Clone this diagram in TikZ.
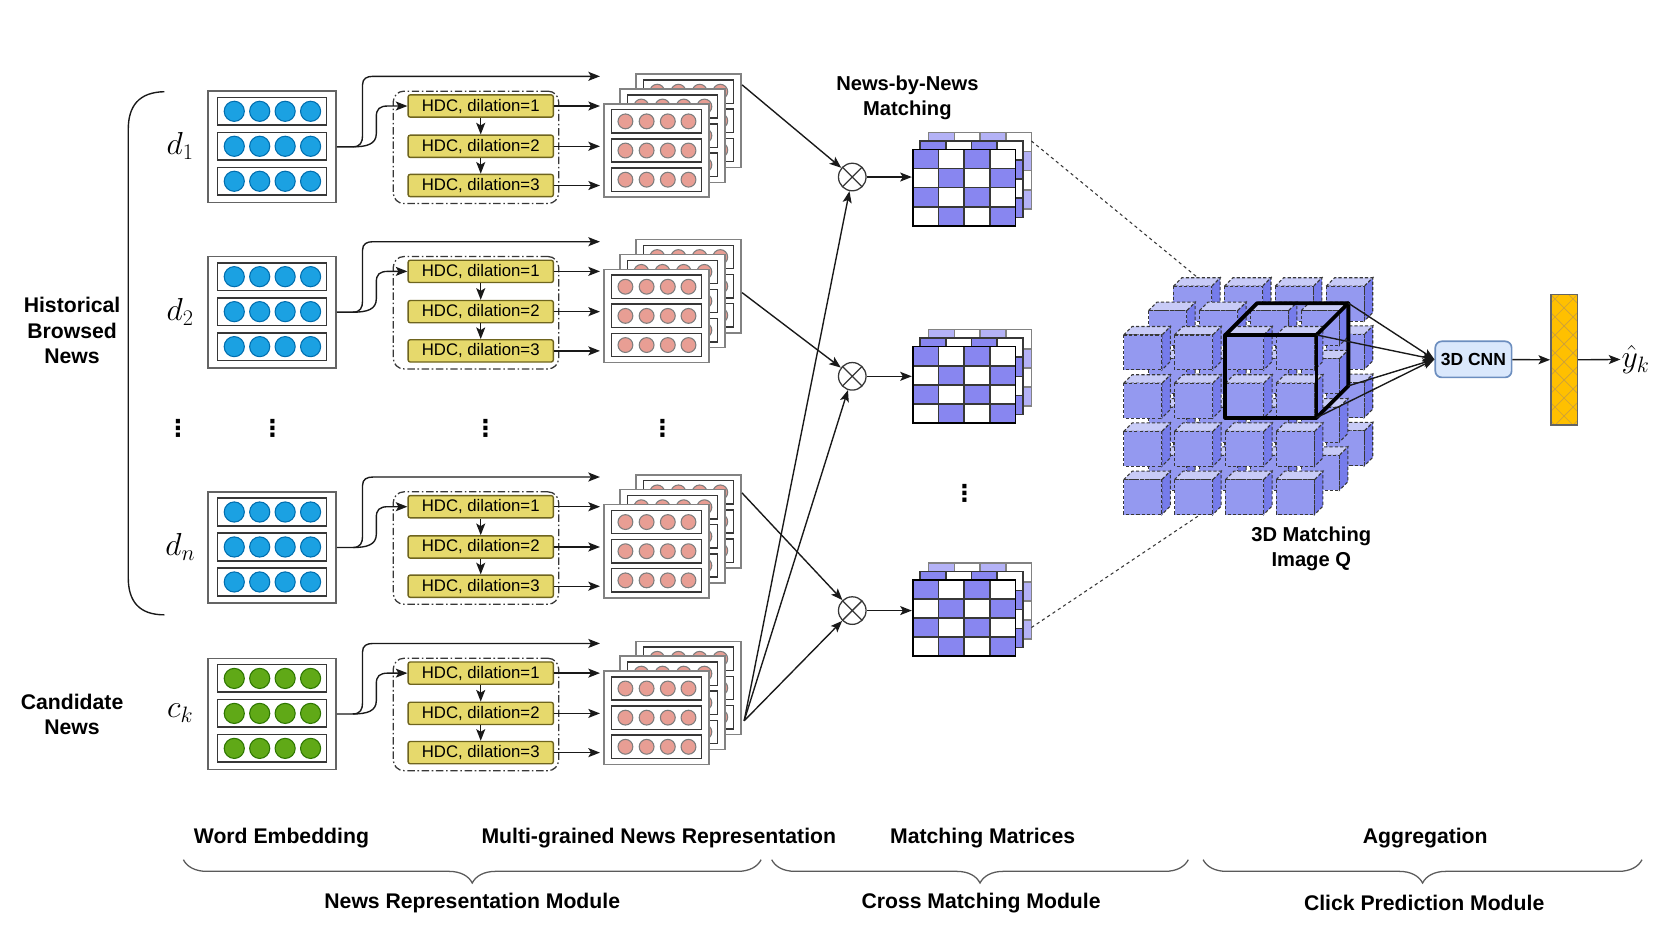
\RequirePackage{fix-cm}
\documentclass[tikz,border=0pt]{standalone}
\usepackage{fontspec}
\setmainfont{Liberation Sans}
\newfontfamily\dejavu{DejaVu Sans}
\usetikzlibrary{arrows.meta,decorations.pathreplacing,calc}
\definecolor{bluef}{RGB}{27,161,226}
\definecolor{blued}{RGB}{0,110,175}
\definecolor{greenf}{RGB}{96,169,23}
\definecolor{greend}{RGB}{45,118,0}
\definecolor{pinkf}{RGB}{232,158,148}
\definecolor{pinkd}{RGB}{125,125,125}
\definecolor{hdcf}{RGB}{230,217,108}
\definecolor{hdcd}{RGB}{110,100,30}
\definecolor{matblue}{RGB}{136,134,240}
\definecolor{matlight}{RGB}{180,178,246}
\definecolor{cubefront}{RGB}{148,153,240}
\definecolor{cubetop}{RGB}{200,203,247}
\definecolor{cubeside}{RGB}{118,124,235}
\definecolor{cnnf}{RGB}{218,232,252}
\definecolor{cnnd}{RGB}{108,142,191}
\definecolor{barf}{RGB}{255,192,0}
\definecolor{barh}{RGB}{205,160,60}
\definecolor{linegray}{RGB}{25,25,25}
\definecolor{boxgray}{RGB}{100,100,100}
\definecolor{rowgray}{RGB}{55,55,55}
\definecolor{framegray}{RGB}{130,130,130}
\definecolor{bracegray}{RGB}{90,90,90}
\tikzset{
  arr/.style={-{Stealth[length=11pt,width=8.5pt,inset=2.5pt]}, line width=1.3pt, draw=linegray},
  wordbox/.style={draw=boxgray, line width=1.4pt, fill=white, inner sep=0pt},
  rowbox/.style={draw=rowgray, line width=1.5pt, fill=white},
  stackframe/.style={draw=framegray, line width=1.4pt, fill=white},
  stackrow/.style={draw=rowgray, line width=1.4pt, fill=white},
  pinkc/.style={fill=pinkf, draw=pinkd, line width=1pt},
  mathlab/.style={font=\fontsize{30}{34}\selectfont, inner sep=1pt},
  hdcframe/.style={draw=rowgray, line width=1.2pt, rounded corners=10pt, dash pattern=on 7pt off 2.5pt on 1.5pt off 2.5pt, inner sep=0pt},
  hdc/.style={draw=hdcd, fill=hdcf, line width=1.3pt, rounded corners=2pt, minimum width=137pt, minimum height=21pt, inner sep=0pt, font=\fontsize{15.8}{18}\selectfont},
  otimes/.style={circle, draw=rowgray, line width=1.2pt, minimum size=26pt, inner sep=0pt, fill=white,
    path picture={\draw[rowgray, line width=1.2pt] (path picture bounding box.north west) -- (path picture bounding box.south east) (path picture bounding box.north east) -- (path picture bounding box.south west);}},
  lab/.style={font=\fontsize{20}{24}\selectfont\bfseries, align=center, inner sep=0pt},
  smalllab/.style={font=\fontsize{19}{23.5}\selectfont\bfseries, align=center, inner sep=0pt},
  vdotlab/.style={font=\dejavu\bfseries\fontsize{22}{24}\selectfont, inner sep=0pt},
  cubeline/.style={draw=rowgray, line width=1pt, dash pattern=on 3pt off 2pt},
  bigcube/.style={draw=black, line width=3.6pt, line join=round},
  cnnbox/.style={draw=cnnd, fill=cnnf, line width=1.6pt, rounded corners=6pt, minimum width=72pt, minimum height=34pt, inner sep=0pt, font=\fontsize{16.5}{20}\selectfont\bfseries},
  brc/.style={decorate, decoration={brace, mirror, amplitude=22pt}, draw=bracegray, line width=1.2pt},
  dotted line/.style={draw=rowgray, line width=1pt, dash pattern=on 3pt off 3pt},
}
\begin{document}
\begin{tikzpicture}[x=1pt,y=-1pt]
\useasboundingbox (0,0) rectangle (1566,879);

% left brace and side labels
\draw[line width=1.3pt, draw=linegray] (155,86.5) .. controls (131,87) and (121,100) .. (121,122) -- (121,545) .. controls (121,567) and (131,580) .. (155,580);
\node[lab] (hist) at (68,312) {Historical\\Browsed\\News};
\node[lab] (cand) at (68,674) {Candidate\\News};

% news rows
\foreach \g/\Y/\lab/\cf/\cd in {1/86/d_1/bluef/blued, 2/242/d_2/bluef/blued, n/464/d_n/bluef/blued, k/621/c_k/greenf/greend} {
  % word embedding
  \node[wordbox, minimum width=121pt, minimum height=105pt] (we\g) at (256.5,\Y+52.5) {};
  \foreach \r in {19,52,85} {
    \draw[rowbox] (205,\Y+\r-13) rectangle (308,\Y+\r+13);
    \foreach \cx in {221,245,269,293}
      \filldraw[fill=\cf, draw=\cd, line width=1pt] (\cx,\Y+\r) circle[radius=9.5];
  }
  \node[mathlab] (lab\g) at (170,\Y+52) {$\lab$};
  % HDC block
  \node[hdcframe, minimum width=156pt, minimum height=106pt] (hf\g) at (449,\Y+53) {};
  \node[hdc] (ha\g) at (453.5,\Y+14) {HDC, dilation=1};
  \node[hdc] (hb\g) at (453.5,\Y+52) {HDC, dilation=2};
  \node[hdc] (hc\g) at (453.5,\Y+89) {HDC, dilation=3};
  \draw[arr] (ha\g) -- (hb\g);
  \draw[arr] (hb\g) -- (hc\g);
  \coordinate (t\g) at (566,\Y-14);
  \coordinate (ta\g) at (566,\Y+14);
  \coordinate (tb\g) at (566,\Y+52);
  \coordinate (tc\g) at (566,\Y+89);
  \coordinate (sp\g) at (333,\Y+52.5);
  \draw[arr] (we\g.east) -- (sp\g) .. controls (340,\Y+52.5) and (342,\Y+48) .. (342,\Y+42) -- (342,\Y-6) .. controls (342,\Y-12) and (346,\Y-14) .. (352,\Y-14) -- (t\g);
  \draw[arr] (sp\g) .. controls (346,\Y+52.5) and (355,\Y+50) .. (355,\Y+40) -- (355,\Y+24) .. controls (355,\Y+17) and (358,\Y+14) .. (366,\Y+14) -- (ha\g.west);
  \draw[arr] (ha\g.east) -- (ta\g);
  \draw[arr] (hb\g.east) -- (tb\g);
  \draw[arr] (hc\g.east) -- (tc\g);
  % output stack
  \foreach \s in {2,1,0} {
    \pgfmathsetmacro\fx{570+15*\s}
    \pgfmathsetmacro\fy{\Y+12-14*\s}
    \draw[stackframe] (\fx,\fy) rectangle ++(99,88);
    \foreach \r in {16.5,44,71.5} {
      \draw[stackrow] (\fx+7,\fy+\r-11) rectangle (\fx+92,\fy+\r+11);
      \foreach \cx in {20,40,60,79.5}
        \filldraw[pinkc] (\fx+\cx,\fy+\r) circle[radius=7];
    }
  }
}

% vertical dots
\node[vdotlab] (dv1) at (168,404) {⋮};
\node[vdotlab] (dv2) at (257,404) {⋮};
\node[vdotlab] (dv3) at (458,404) {⋮};
\node[vdotlab] (dv4) at (625,404) {⋮};
\node[vdotlab] (dv5) at (910,465) {⋮};

% matching operators
\node[otimes] (o1) at (804,167) {};
\node[otimes] (o2) at (804,355) {};
\node[otimes] (o3) at (804,576) {};
\coordinate (so1) at (700,80);
\coordinate (so2) at (700,276);
\coordinate (son) at (700,465);
\coordinate (sok) at (702,680);
\draw[arr] (so1) -- (o1);
\draw[arr] (so2) -- (o2);
\draw[arr] (son) -- (o3);
\draw[arr] (sok) -- (o1);
\draw[arr] (sok) -- (o2);
\draw[arr] (sok) -- (o3);

\node[smalllab] (nbn) at (856,92) {News-by-News\\Matching};

% matching matrices
\foreach \m/\T in {1/141,2/327,3/547} {
  \foreach \s/\dx/\dy/\cb/\ln in {2/15/-16/matlight/framegray, 1/7/-8/matblue/rowgray, 0/0/0/matblue/rowgray} {
    \foreach \i in {0,...,3} \foreach \j in {0,...,3} {
      \pgfmathtruncatemacro\pp{\i+\j}
      \ifodd\pp \def\cc{white}\else \def\cc{\cb}\fi
      \filldraw[fill=\cc, draw=\ln, line width=1.5pt] (861+\dx+24.25*\i,\T+\dy+18*\j) rectangle ++(24.25,18);
    }
  }
  \node[draw=black, line width=1.6pt, inner sep=0pt, minimum width=97pt, minimum height=72pt] (m\m) at (909.5,\T+36) {};
}
\draw[arr] (o1) -- (o1 -| m1.west);
\draw[arr] (o2) -- (o2 -| m2.west);
\draw[arr] (o3) -- (o3 -| m3.west);

% 3D matching image
\foreach \L in {2,1,0} {
  \foreach \c in {0,...,3} {
    \foreach \r in {0,...,3} {
      \pgfmathsetmacro\cx{1060+48*\c+23.5*\L}
      \pgfmathsetmacro\cy{316+45.5*\r-23*\L}
      \draw[cubeline, fill=cubeside] (\cx+36,\cy) -- ++(8,-8) -- ++(0,33) -- ++(-8,8) -- cycle;
      \draw[cubeline, fill=cubetop] (\cx,\cy) -- ++(8,-8) -- ++(36,0) -- ++(-8,8) -- cycle;
      \draw[cubeline, fill=cubefront] (\cx,\cy) rectangle ++(36,33);
    }
  }
}
\coordinate (bfa) at (1156,316);
\coordinate (bfb) at (1242,316);
\coordinate (bfc) at (1242,394);
\coordinate (bfd) at (1156,394);
\coordinate (bba) at (1186,286);
\coordinate (bbb) at (1272,286);
\coordinate (bbc) at (1272,364);
\draw[bigcube] (bfa) -- (bfb) -- (bfc) -- (bfd) -- cycle;
\draw[bigcube] (bfa) -- (bba) -- (bbb) -- (bfb);
\draw[bigcube] (bbb) -- (bbc) -- (bfc);
\node[smalllab] (qlab) at (1237,518) {3D Matching\\Image Q};

% dotted projection lines
\coordinate (mt) at (973,133);
\coordinate (mb) at (973,592);
\coordinate (qt) at (1130,262);
\coordinate (qb) at (1130,487);
\draw[dotted line] (mt) -- (qt);
\draw[dotted line] (mb) -- (qb);

% aggregation
\node[cnnbox] (cnn) at (1390,339) {3D CNN};
\draw[arr] (bbb) -- (cnn.west);
\draw[arr] (bfb) -- (cnn.west);
\draw[arr] (bbc) -- (cnn.west);
\draw[arr] (bfc) -- (cnn.west);
\node[draw=boxgray, fill=barf, line width=1.3pt, minimum width=25pt, minimum height=123pt, inner sep=0pt,
  path picture={\foreach \k in {-170,-153,...,40} {
     \draw[barh, line width=0.6pt] ([yshift=\k pt]path picture bounding box.north west) -- ++(34pt,-34pt);
     \draw[barh, line width=0.6pt] ([yshift=\k pt]path picture bounding box.north east) -- ++(-34pt,-34pt);}}] (bar) at (1475.5,339.5) {};
\draw[arr] (cnn) -- (bar);
\node[mathlab] (yhat) at (1543,339) {$\hat{y}_k$};
\draw[arr] (bar) -- (yhat);

% bottom labels
\node[lab] (l1) at (265.5,791) {Word Embedding};
\node[lab] (l2) at (621.5,791) {Multi-grained News Representation};
\node[lab] (l3) at (927,791) {Matching Matrices};
\node[lab] (l4) at (1344.5,791) {Aggregation};
\coordinate (b1a) at (173,811);
\coordinate (b1b) at (718,811);
\coordinate (b2a) at (728,811);
\coordinate (b2b) at (1121,811);
\coordinate (b3a) at (1135,811);
\coordinate (b3b) at (1549,811);
\draw[brc] (b1a) -- (b1b);
\draw[brc] (b2a) -- (b2b);
\draw[brc] (b3a) -- (b3b);
\node[lab] (m1lab) at (445.5,852) {News Representation Module};
\node[lab] (m2lab) at (925.5,852) {Cross Matching Module};
\node[lab] (m3lab) at (1343.5,852) {Click Prediction Module};
\end{tikzpicture}
\end{document}
